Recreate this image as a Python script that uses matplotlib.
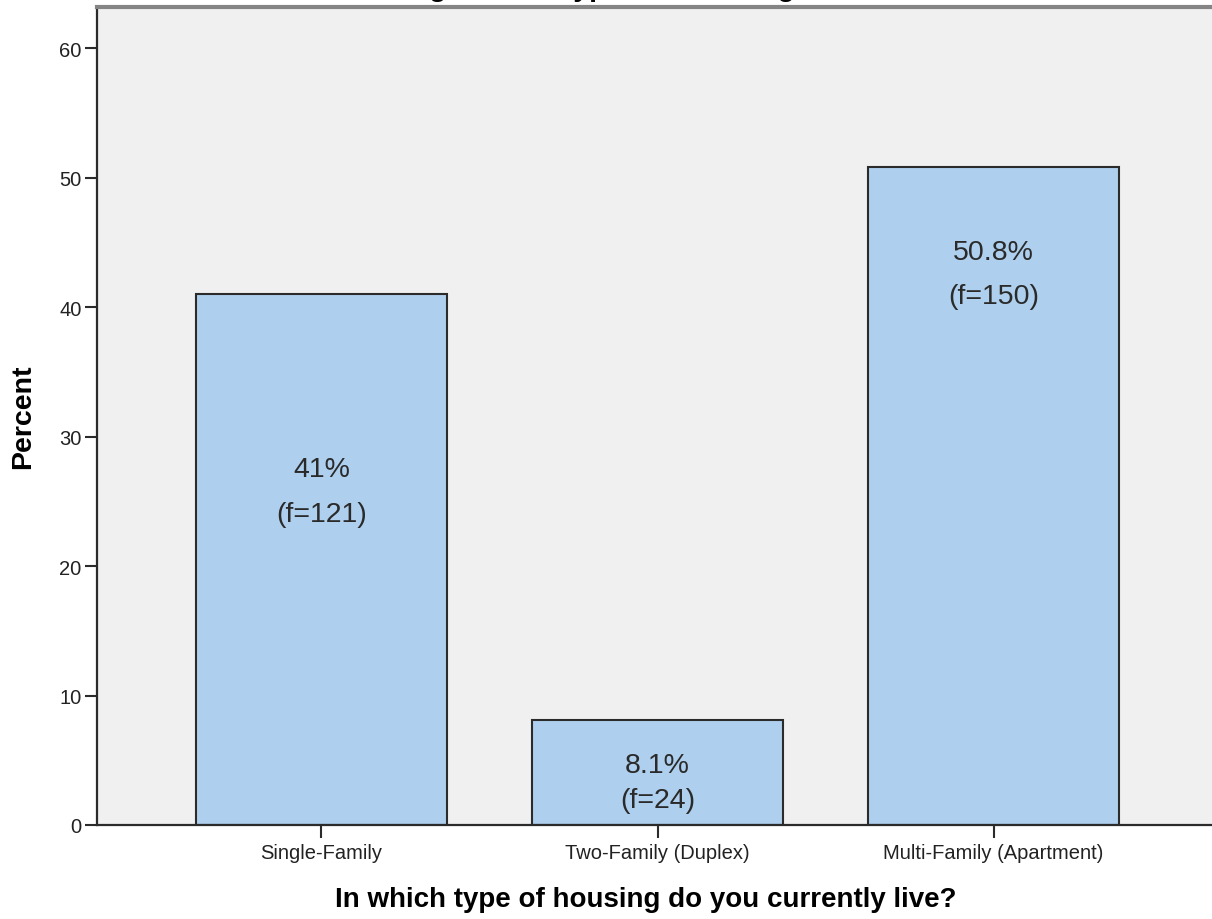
import matplotlib
matplotlib.use("Agg")
import matplotlib.pyplot as plt

# data
categories = ["Single-Family", "Two-Family (Duplex)", "Multi-Family (Apartment)"]
percents = [41.0, 8.1, 50.8]
pct_labels = ["41%", "8.1%", "50.8%"]
freq_labels = ["(f=121)", "(f=24)", "(f=150)"]
yticks = [0, 10, 20, 30, 40, 50, 60]

# where SPSS put the inside labels (data units)
pct_label_y = [27.5, 4.6, 44.25]
freq_label_y = [24.0, 1.9, 40.85]

plt.rcParams['font.family'] = ['Liberation Sans', 'DejaVu Sans']

fig = plt.figure(figsize=(12.12, 9.2), dpi=100)
ax = fig.add_axes([97 / 1212, 1 - 826 / 920, 1121 / 1212, 818 / 920])
ax.set_facecolor('#f0f0f0')

x = list(range(len(categories)))
ax.bar(x, percents, width=0.747, color='#aed0ee', edgecolor='#2b2b2b',
       linewidth=1.5, zorder=2)

for i in x:
    ax.text(i, pct_label_y[i], pct_labels[i], ha='center', va='center',
            fontsize=20.5, color='#2a2a2a', zorder=3)
    ax.text(i, freq_label_y[i], freq_labels[i], ha='center', va='center',
            fontsize=20.5, color='#2a2a2a', zorder=3)

ax.set_xlim(-0.668, 2.668)
ax.set_ylim(0, 63.2)
ax.set_xticks(x)
ax.set_xticklabels(categories)
ax.set_yticks(yticks)

ax.tick_params(axis='both', direction='out', length=9, width=1.5,
               color='#2b2b2b', labelsize=14.5, labelcolor='#222222')
ax.tick_params(axis='x', pad=4)
ax.tick_params(axis='y', pad=2)

for side in ['left', 'bottom']:
    ax.spines[side].set_linewidth(1.6)
    ax.spines[side].set_color('#2b2b2b')
ax.spines['top'].set_color('#858585')
ax.spines['top'].set_linewidth(3.0)
ax.spines['right'].set_visible(False)

ax.set_ylabel("Percent", fontsize=20.5, fontweight='bold', labelpad=17)
ax.set_xlabel("In which type of housing do you currently live?",
              fontsize=20, fontweight='bold', labelpad=16)
ax.xaxis.set_label_coords(0.4893, -0.075)

# chart title sits above the visible area, only its descenders show
fig.text(233 / 1212, 1 + 4.5 / 920, "Students Living Across Types of Housing",
         ha='left', va='baseline', fontsize=20.5, fontweight='bold')

fig.savefig('out.png', dpi=100)
